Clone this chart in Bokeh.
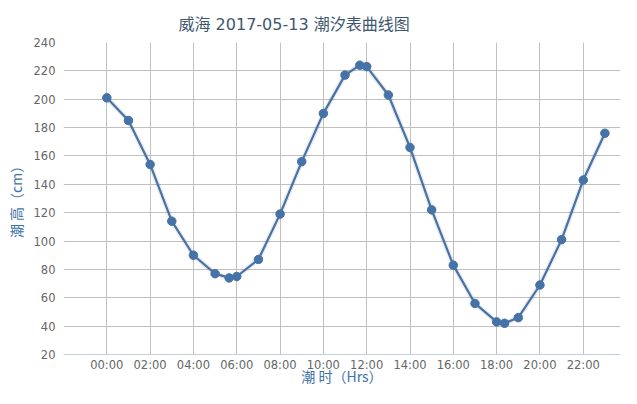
from bokeh.plotting import figure
from bokeh.models import FixedTicker, Range1d
from bokeh.embed import file_html
from bokeh.resources import INLINE

# --- data ---
times = ["00:00", "01:00", "02:00", "03:00", "04:00", "05:00", "05:39", "06:00",
         "07:00", "08:00", "09:00", "10:00", "11:00", "11:41", "12:00", "13:00",
         "14:00", "15:00", "16:00", "17:00", "18:00", "18:22", "19:00", "20:00",
         "21:00", "22:00", "23:00"]
heights = [201, 185, 154, 114, 90, 77, 74, 75,
           87, 119, 156, 190, 217, 224, 223, 203,
           166, 122, 83, 56, 43, 42, 46, 69,
           101, 143, 176]
x_tick_labels = ["00:00", "02:00", "04:00", "06:00", "08:00", "10:00",
                 "12:00", "14:00", "16:00", "18:00", "20:00", "22:00"]
y_ticks = [20, 40, 60, 80, 100, 120, 140, 160, 180, 200, 220, 240]
title_text = "威海 2017-05-13 潮汐表曲线图"
x_title = "潮 时（Hrs）"
y_title = "潮 高（cm）"

hours = [int(t[:2]) + int(t[3:]) / 60 for t in times]
tick_hours = [int(t[:2]) for t in x_tick_labels]

FONT = "Noto Sans CJK SC"
MIX = "DejaVu Sans, Noto Sans CJK SC"
LINE = "#4572A7"

p = figure(width=621, height=388, output_backend="svg", toolbar_location=None,
           x_range=Range1d(-2, 23.72), y_range=Range1d(20, 240),
           min_border_left=63, min_border_right=1, min_border_top=42,
           min_border_bottom=34, title=title_text)
p.outline_line_color = None
p.background_fill_color = "white"
p.border_fill_color = "white"

p.title.text_font = MIX
p.title.text_font_size = "16px"
p.title.text_font_style = "normal"
p.title.text_color = "#3E576F"
p.title.align = "left"
p.title.offset = 115
p.title.standoff = 17

grid_ticks = [-2] + tick_hours
p.xaxis.ticker = FixedTicker(ticks=grid_ticks)
overrides = {h: lab for h, lab in zip(tick_hours, x_tick_labels)}
overrides[-2] = ""
p.xaxis.major_label_overrides = overrides
p.yaxis.ticker = FixedTicker(ticks=y_ticks)

for ax in (p.xaxis[0], p.yaxis[0]):
    ax.major_tick_line_color = None
    ax.minor_tick_line_color = None
    ax.major_tick_in = 0
    ax.major_tick_out = 0
    ax.minor_tick_in = 0
    ax.minor_tick_out = 0
    ax.major_label_text_font = "DejaVu Sans"
    ax.major_label_text_font_size = "11.5px"
    ax.major_label_text_color = "#666666"
    ax.axis_label_text_font = FONT
    ax.axis_label_text_font_size = "14px"
    ax.axis_label_text_font_style = "normal"
    ax.axis_label_text_color = "#3D72A8"

p.xaxis.axis_line_color = "#C0D0E0"
p.xaxis.axis_line_width = 1
p.yaxis.axis_line_color = None
p.xaxis.major_label_standoff = 3
p.yaxis.major_label_standoff = 8
p.xaxis.axis_label = x_title
p.yaxis.axis_label = y_title
p.xaxis.axis_label_standoff = -9
p.yaxis.axis_label_standoff = 5

p.xgrid.grid_line_color = "#C0C0C0"
p.ygrid.grid_line_color = "#C0C0C0"
p.xgrid.grid_line_width = 1
p.ygrid.grid_line_width = 1

# shadow
p.line(hours, heights, line_color="black", line_alpha=0.08, line_width=5)
p.line(hours, heights, line_color=LINE, line_width=2.2)
p.scatter(hours, heights, size=8.5, fill_color=LINE, line_color=LINE)

open("out.html", "w").write(file_html(p, INLINE))
